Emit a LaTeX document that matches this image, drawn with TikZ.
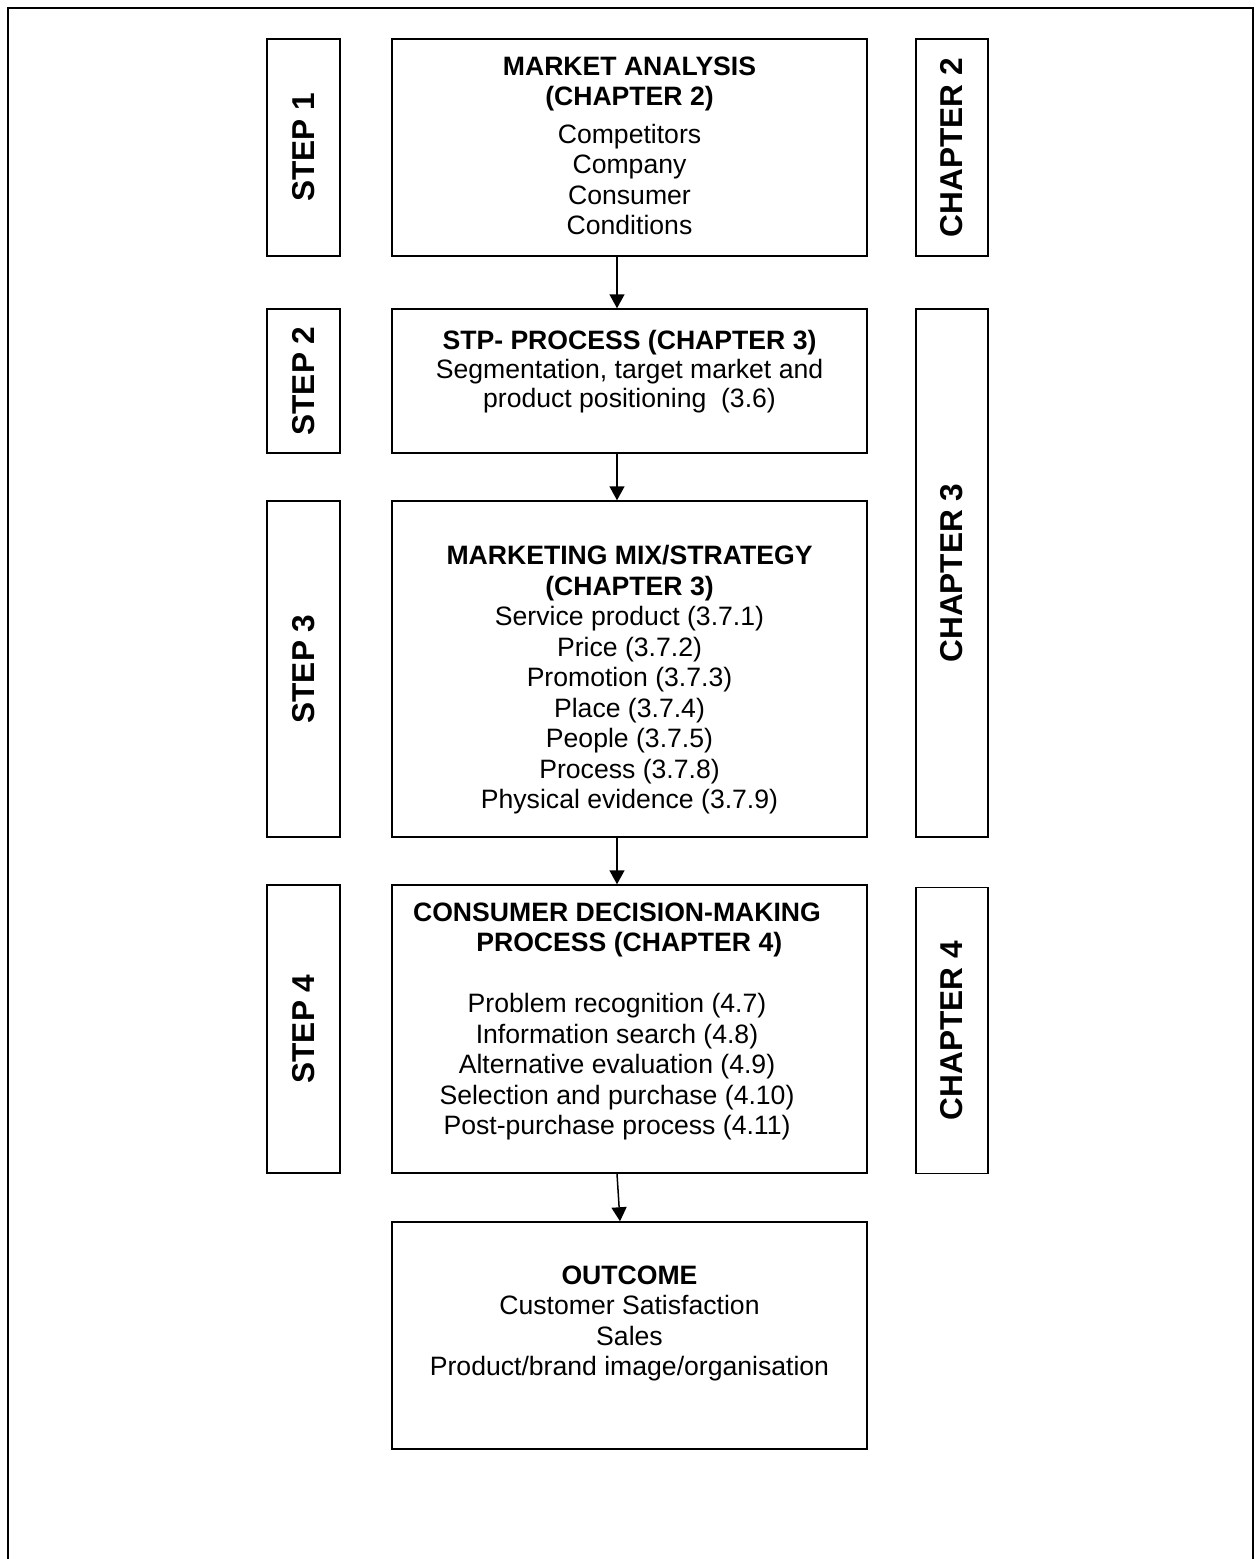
\documentclass[tikz,border=0pt]{standalone}
\usepackage{fontspec}
\setmainfont{Liberation Sans}
\usetikzlibrary{arrows.meta}
\tikzset{
  mainbox/.style={draw, line width=0.75pt, rectangle, inner sep=0pt, minimum width=237.5pt},
  sidebox/.style={draw, line width=0.75pt, rectangle, inner sep=0pt, rotate=90,
                  font=\fontsize{15.8pt}{18pt}\selectfont\bfseries},
  boxtext/.style={anchor=north, inner sep=0pt, align=center,
                  font=\fontsize{13.3pt}{15.25pt}\selectfont},
  flow/.style={-{Triangle[length=7pt,width=7.5pt]}, line width=0.75pt},
  framestyle/.style={line width=1pt}
}
\begin{document}
\begin{tikzpicture}[x=0.5pt, y=-0.5pt]
\useasboundingbox (0,0) rectangle (1255,1559);
% outer frame (open at the bottom)
\draw[framestyle] (8,1570) -- (8,8) -- (1253,8) -- (1253,1570);

% main column boxes
\node[mainbox, minimum height=108.5pt] (b1) at (629.5,147.5) {};
\node[mainbox, minimum height=72pt]    (b2) at (629.5,381) {};
\node[mainbox, minimum height=168pt]   (b3) at (629.5,669) {};
\node[mainbox, minimum height=144pt]   (b4) at (629.5,1029) {};
\node[mainbox, minimum height=113.5pt] (b5) at (629.5,1335.5) {};

% texts of the main boxes
\node[boxtext] (t1) at (629.5,56.5) {\textbf{MARKET ANALYSIS}\\\textbf{(CHAPTER 2)}\\[3.5pt]Competitors\\Company\\Consumer\\Conditions};
\node[boxtext, font=\fontsize{13.3pt}{14.6pt}\selectfont] (t2) at (629.5,329.5) {\textbf{STP- PROCESS (CHAPTER 3)}\\Segmentation, target market and\\product positioning~ (3.6)};
\node[boxtext] (t3) at (629.5,545) {\textbf{MARKETING MIX/STRATEGY}\\\textbf{(CHAPTER 3)}\\Service product (3.7.1)\\Price (3.7.2)\\Promotion (3.7.3)\\Place (3.7.4)\\People (3.7.5)\\Process (3.7.8)\\Physical evidence (3.7.9)};
\node[boxtext] (t4) at (617,902.5) {\textbf{CONSUMER DECISION-MAKING}\\\hspace*{12.3pt}\textbf{PROCESS (CHAPTER 4)}\\[15.25pt]Problem recognition (4.7)\\Information search (4.8)\\Alternative evaluation (4.9)\\Selection and purchase (4.10)\\Post-purchase process (4.11)};
\node[boxtext] (t5) at (629.5,1265.5) {\textbf{OUTCOME}\\Customer Satisfaction\\Sales\\Product/brand image/organisation};

% step boxes (left)
\node[sidebox, minimum width=108.5pt, minimum height=36.5pt] (s1) at (303.5,147.5) {STEP 1};
\node[sidebox, minimum width=72pt,    minimum height=36.5pt] (s2) at (303.5,381) {STEP 2};
\node[sidebox, minimum width=168pt,   minimum height=36.5pt] (s3) at (303.5,669) {STEP 3};
\node[sidebox, minimum width=144pt,   minimum height=36.5pt] (s4) at (303.5,1029) {STEP 4};

% chapter boxes (right)
\node[sidebox, minimum width=108.5pt, minimum height=36pt] (c2) at (952,147.5) {CHAPTER 2};
\node[sidebox, minimum width=264pt,   minimum height=36pt] (c3) at (952,573) {CHAPTER 3};
\node[sidebox, minimum width=143pt,   minimum height=36pt] (c4) at (952,1030.5) {CHAPTER 4};

% connectors
\coordinate (ax) at (617,0);
\coordinate (bx) at (620,0);
\draw[flow] (b1.south -| ax) -- (b2.north -| ax);
\draw[flow] (b2.south -| ax) -- (b3.north -| ax);
\draw[flow] (b3.south -| ax) -- (b4.north -| ax);
\draw[flow] (b4.south -| ax) -- (b5.north -| bx);
\end{tikzpicture}
\end{document}
